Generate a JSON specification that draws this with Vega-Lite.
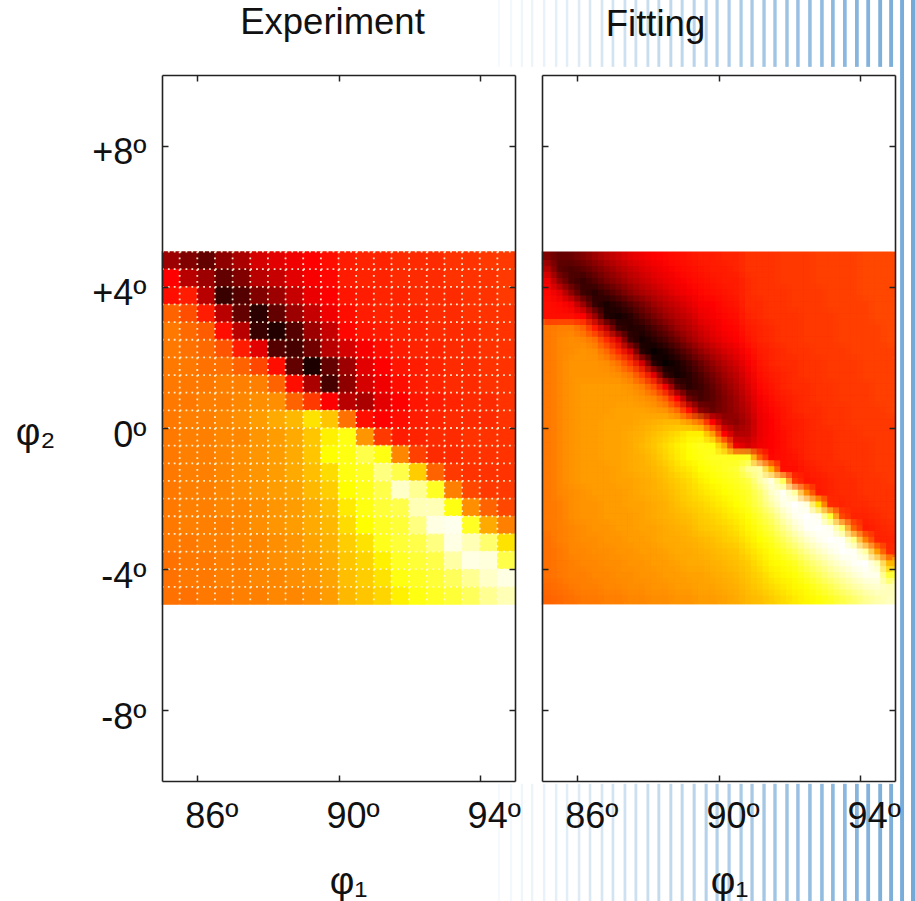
{"$schema":"https://vega.github.io/schema/vega-lite/v6.json","padding":{"left":15,"top":-3,"right":0,"bottom":0},"background":"white","bounds":"flush","spacing":27,"config":{"font":"Liberation Sans","view":{"stroke":null},"axis":{"grid":false,"domainColor":"#222","domainWidth":1.6,"tickColor":"#222","tickWidth":1.5,"tickSize":-6,"labelFont":"Liberation Sans","labelFontSize":36,"labelColor":"#111","titleFont":"Liberation Sans","titleFontWeight":"normal","titleFontSize":38,"titleColor":"#111","zindex":1},"title":{"font":"Liberation Sans","fontSize":36.5,"fontWeight":"normal","color":"#111"}},"datasets":{"fit":[
{"x":85.167,"y":4.833,"v":18},{"x":85.5,"y":4.833,"v":14},{"x":85.833,"y":4.833,"v":15},{"x":86.167,"y":4.833,"v":18},{"x":86.5,"y":4.833,"v":22},{"x":86.833,"y":4.833,"v":26},{"x":87.167,"y":4.833,"v":29},{"x":87.5,"y":4.833,"v":32},{"x":87.833,"y":4.833,"v":34},{"x":88.167,"y":4.833,"v":36},{"x":88.5,"y":4.833,"v":37},{"x":88.833,"y":4.833,"v":38},{"x":89.167,"y":4.833,"v":39},{"x":89.5,"y":4.833,"v":40},{"x":89.833,"y":4.833,"v":40},{"x":90.167,"y":4.833,"v":41},{"x":90.5,"y":4.833,"v":41},{"x":90.833,"y":4.833,"v":43},{"x":91.167,"y":4.833,"v":43},{"x":91.5,"y":4.833,"v":43},{"x":91.833,"y":4.833,"v":44},{"x":92.167,"y":4.833,"v":44},{"x":92.5,"y":4.833,"v":44},{"x":92.833,"y":4.833,"v":45},{"x":93.167,"y":4.833,"v":45},{"x":93.5,"y":4.833,"v":45},{"x":93.833,"y":4.833,"v":45},{"x":94.167,"y":4.833,"v":46},{"x":94.5,"y":4.833,"v":46},{"x":94.833,"y":4.833,"v":46},
{"x":85.167,"y":4.5,"v":26},{"x":85.5,"y":4.5,"v":13},{"x":85.833,"y":4.5,"v":11},{"x":86.167,"y":4.5,"v":13},{"x":86.5,"y":4.5,"v":17},{"x":86.833,"y":4.5,"v":21},{"x":87.167,"y":4.5,"v":25},{"x":87.5,"y":4.5,"v":28},{"x":87.833,"y":4.5,"v":31},{"x":88.167,"y":4.5,"v":33},{"x":88.5,"y":4.5,"v":35},{"x":88.833,"y":4.5,"v":37},{"x":89.167,"y":4.5,"v":38},{"x":89.5,"y":4.5,"v":39},{"x":89.833,"y":4.5,"v":40},{"x":90.167,"y":4.5,"v":40},{"x":90.5,"y":4.5,"v":41},{"x":90.833,"y":4.5,"v":43},{"x":91.167,"y":4.5,"v":43},{"x":91.5,"y":4.5,"v":43},{"x":91.833,"y":4.5,"v":44},{"x":92.167,"y":4.5,"v":44},{"x":92.5,"y":4.5,"v":44},{"x":92.833,"y":4.5,"v":45},{"x":93.167,"y":4.5,"v":45},{"x":93.5,"y":4.5,"v":45},{"x":93.833,"y":4.5,"v":45},{"x":94.167,"y":4.5,"v":46},{"x":94.5,"y":4.5,"v":46},{"x":94.833,"y":4.5,"v":46},
{"x":85.167,"y":4.167,"v":34},{"x":85.5,"y":4.167,"v":20},{"x":85.833,"y":4.167,"v":11},{"x":86.167,"y":4.167,"v":8},{"x":86.5,"y":4.167,"v":12},{"x":86.833,"y":4.167,"v":17},{"x":87.167,"y":4.167,"v":21},{"x":87.5,"y":4.167,"v":25},{"x":87.833,"y":4.167,"v":28},{"x":88.167,"y":4.167,"v":31},{"x":88.5,"y":4.167,"v":33},{"x":88.833,"y":4.167,"v":35},{"x":89.167,"y":4.167,"v":37},{"x":89.5,"y":4.167,"v":38},{"x":89.833,"y":4.167,"v":39},{"x":90.167,"y":4.167,"v":40},{"x":90.5,"y":4.167,"v":40},{"x":90.833,"y":4.167,"v":42},{"x":91.167,"y":4.167,"v":43},{"x":91.5,"y":4.167,"v":43},{"x":91.833,"y":4.167,"v":44},{"x":92.167,"y":4.167,"v":44},{"x":92.5,"y":4.167,"v":44},{"x":92.833,"y":4.167,"v":45},{"x":93.167,"y":4.167,"v":45},{"x":93.5,"y":4.167,"v":45},{"x":93.833,"y":4.167,"v":45},{"x":94.167,"y":4.167,"v":46},{"x":94.5,"y":4.167,"v":46},{"x":94.833,"y":4.167,"v":46},
{"x":85.167,"y":3.833,"v":37},{"x":85.5,"y":3.833,"v":32},{"x":85.833,"y":3.833,"v":20},{"x":86.167,"y":3.833,"v":9},{"x":86.5,"y":3.833,"v":6},{"x":86.833,"y":3.833,"v":10},{"x":87.167,"y":3.833,"v":15},{"x":87.5,"y":3.833,"v":20},{"x":87.833,"y":3.833,"v":24},{"x":88.167,"y":3.833,"v":27},{"x":88.5,"y":3.833,"v":30},{"x":88.833,"y":3.833,"v":33},{"x":89.167,"y":3.833,"v":35},{"x":89.5,"y":3.833,"v":37},{"x":89.833,"y":3.833,"v":38},{"x":90.167,"y":3.833,"v":39},{"x":90.5,"y":3.833,"v":40},{"x":90.833,"y":3.833,"v":42},{"x":91.167,"y":3.833,"v":43},{"x":91.5,"y":3.833,"v":43},{"x":91.833,"y":3.833,"v":43},{"x":92.167,"y":3.833,"v":44},{"x":92.5,"y":3.833,"v":44},{"x":92.833,"y":3.833,"v":44},{"x":93.167,"y":3.833,"v":45},{"x":93.5,"y":3.833,"v":45},{"x":93.833,"y":3.833,"v":45},{"x":94.167,"y":3.833,"v":46},{"x":94.5,"y":3.833,"v":46},{"x":94.833,"y":3.833,"v":46},
{"x":85.167,"y":3.5,"v":38},{"x":85.5,"y":3.5,"v":37},{"x":85.833,"y":3.5,"v":34},{"x":86.167,"y":3.5,"v":22},{"x":86.5,"y":3.5,"v":8},{"x":86.833,"y":3.5,"v":4},{"x":87.167,"y":3.5,"v":7},{"x":87.5,"y":3.5,"v":12},{"x":87.833,"y":3.5,"v":17},{"x":88.167,"y":3.5,"v":22},{"x":88.5,"y":3.5,"v":26},{"x":88.833,"y":3.5,"v":29},{"x":89.167,"y":3.5,"v":32},{"x":89.5,"y":3.5,"v":35},{"x":89.833,"y":3.5,"v":36},{"x":90.167,"y":3.5,"v":38},{"x":90.5,"y":3.5,"v":39},{"x":90.833,"y":3.5,"v":42},{"x":91.167,"y":3.5,"v":42},{"x":91.5,"y":3.5,"v":43},{"x":91.833,"y":3.5,"v":43},{"x":92.167,"y":3.5,"v":44},{"x":92.5,"y":3.5,"v":44},{"x":92.833,"y":3.5,"v":44},{"x":93.167,"y":3.5,"v":45},{"x":93.5,"y":3.5,"v":45},{"x":93.833,"y":3.5,"v":45},{"x":94.167,"y":3.5,"v":45},{"x":94.5,"y":3.5,"v":46},{"x":94.833,"y":3.5,"v":46},
{"x":85.167,"y":3.167,"v":38},{"x":85.5,"y":3.167,"v":38},{"x":85.833,"y":3.167,"v":38},{"x":86.167,"y":3.167,"v":36},{"x":86.5,"y":3.167,"v":22},{"x":86.833,"y":3.167,"v":5},{"x":87.167,"y":3.167,"v":3},{"x":87.5,"y":3.167,"v":6},{"x":87.833,"y":3.167,"v":12},{"x":88.167,"y":3.167,"v":17},{"x":88.5,"y":3.167,"v":22},{"x":88.833,"y":3.167,"v":26},{"x":89.167,"y":3.167,"v":29},{"x":89.5,"y":3.167,"v":33},{"x":89.833,"y":3.167,"v":35},{"x":90.167,"y":3.167,"v":37},{"x":90.5,"y":3.167,"v":38},{"x":90.833,"y":3.167,"v":41},{"x":91.167,"y":3.167,"v":42},{"x":91.5,"y":3.167,"v":43},{"x":91.833,"y":3.167,"v":43},{"x":92.167,"y":3.167,"v":43},{"x":92.5,"y":3.167,"v":44},{"x":92.833,"y":3.167,"v":44},{"x":93.167,"y":3.167,"v":44},{"x":93.5,"y":3.167,"v":45},{"x":93.833,"y":3.167,"v":45},{"x":94.167,"y":3.167,"v":45},{"x":94.5,"y":3.167,"v":46},{"x":94.833,"y":3.167,"v":46},
{"x":85.167,"y":2.833,"v":53},{"x":85.5,"y":2.833,"v":54},{"x":85.833,"y":2.833,"v":54},{"x":86.167,"y":2.833,"v":50},{"x":86.5,"y":2.833,"v":40},{"x":86.833,"y":2.833,"v":26},{"x":87.167,"y":2.833,"v":8},{"x":87.5,"y":2.833,"v":5},{"x":87.833,"y":2.833,"v":6},{"x":88.167,"y":2.833,"v":11},{"x":88.5,"y":2.833,"v":16},{"x":88.833,"y":2.833,"v":22},{"x":89.167,"y":2.833,"v":26},{"x":89.5,"y":2.833,"v":30},{"x":89.833,"y":2.833,"v":33},{"x":90.167,"y":2.833,"v":36},{"x":90.5,"y":2.833,"v":37},{"x":90.833,"y":2.833,"v":40},{"x":91.167,"y":2.833,"v":41},{"x":91.5,"y":2.833,"v":42},{"x":91.833,"y":2.833,"v":43},{"x":92.167,"y":2.833,"v":43},{"x":92.5,"y":2.833,"v":44},{"x":92.833,"y":2.833,"v":44},{"x":93.167,"y":2.833,"v":44},{"x":93.5,"y":2.833,"v":45},{"x":93.833,"y":2.833,"v":45},{"x":94.167,"y":2.833,"v":45},{"x":94.5,"y":2.833,"v":45},{"x":94.833,"y":2.833,"v":46},
{"x":85.167,"y":2.5,"v":53},{"x":85.5,"y":2.5,"v":55},{"x":85.833,"y":2.5,"v":56},{"x":86.167,"y":2.5,"v":55},{"x":86.5,"y":2.5,"v":52},{"x":86.833,"y":2.5,"v":42},{"x":87.167,"y":2.5,"v":30},{"x":87.5,"y":2.5,"v":8},{"x":87.833,"y":2.5,"v":3},{"x":88.167,"y":2.5,"v":6},{"x":88.5,"y":2.5,"v":10},{"x":88.833,"y":2.5,"v":16},{"x":89.167,"y":2.5,"v":22},{"x":89.5,"y":2.5,"v":27},{"x":89.833,"y":2.5,"v":31},{"x":90.167,"y":2.5,"v":34},{"x":90.5,"y":2.5,"v":36},{"x":90.833,"y":2.5,"v":39},{"x":91.167,"y":2.5,"v":41},{"x":91.5,"y":2.5,"v":42},{"x":91.833,"y":2.5,"v":43},{"x":92.167,"y":2.5,"v":43},{"x":92.5,"y":2.5,"v":44},{"x":92.833,"y":2.5,"v":44},{"x":93.167,"y":2.5,"v":44},{"x":93.5,"y":2.5,"v":45},{"x":93.833,"y":2.5,"v":45},{"x":94.167,"y":2.5,"v":45},{"x":94.5,"y":2.5,"v":45},{"x":94.833,"y":2.5,"v":46},
{"x":85.167,"y":2.167,"v":53},{"x":85.5,"y":2.167,"v":55},{"x":85.833,"y":2.167,"v":56},{"x":86.167,"y":2.167,"v":57},{"x":86.5,"y":2.167,"v":56},{"x":86.833,"y":2.167,"v":51},{"x":87.167,"y":2.167,"v":42},{"x":87.5,"y":2.167,"v":30},{"x":87.833,"y":2.167,"v":6},{"x":88.167,"y":2.167,"v":1},{"x":88.5,"y":2.167,"v":4},{"x":88.833,"y":2.167,"v":9},{"x":89.167,"y":2.167,"v":15},{"x":89.5,"y":2.167,"v":21},{"x":89.833,"y":2.167,"v":26},{"x":90.167,"y":2.167,"v":30},{"x":90.5,"y":2.167,"v":33},{"x":90.833,"y":2.167,"v":37},{"x":91.167,"y":2.167,"v":40},{"x":91.5,"y":2.167,"v":41},{"x":91.833,"y":2.167,"v":42},{"x":92.167,"y":2.167,"v":43},{"x":92.5,"y":2.167,"v":43},{"x":92.833,"y":2.167,"v":44},{"x":93.167,"y":2.167,"v":44},{"x":93.5,"y":2.167,"v":44},{"x":93.833,"y":2.167,"v":45},{"x":94.167,"y":2.167,"v":45},{"x":94.5,"y":2.167,"v":45},{"x":94.833,"y":2.167,"v":45},
{"x":85.167,"y":1.833,"v":53},{"x":85.5,"y":1.833,"v":55},{"x":85.833,"y":1.833,"v":57},{"x":86.167,"y":1.833,"v":57},{"x":86.5,"y":1.833,"v":57},{"x":86.833,"y":1.833,"v":56},{"x":87.167,"y":1.833,"v":52},{"x":87.5,"y":1.833,"v":44},{"x":87.833,"y":1.833,"v":30},{"x":88.167,"y":1.833,"v":6},{"x":88.5,"y":1.833,"v":1},{"x":88.833,"y":1.833,"v":4},{"x":89.167,"y":1.833,"v":9},{"x":89.5,"y":1.833,"v":15},{"x":89.833,"y":1.833,"v":21},{"x":90.167,"y":1.833,"v":26},{"x":90.5,"y":1.833,"v":30},{"x":90.833,"y":1.833,"v":35},{"x":91.167,"y":1.833,"v":39},{"x":91.5,"y":1.833,"v":41},{"x":91.833,"y":1.833,"v":42},{"x":92.167,"y":1.833,"v":42},{"x":92.5,"y":1.833,"v":43},{"x":92.833,"y":1.833,"v":43},{"x":93.167,"y":1.833,"v":44},{"x":93.5,"y":1.833,"v":44},{"x":93.833,"y":1.833,"v":44},{"x":94.167,"y":1.833,"v":45},{"x":94.5,"y":1.833,"v":45},{"x":94.833,"y":1.833,"v":45},
{"x":85.167,"y":1.5,"v":53},{"x":85.5,"y":1.5,"v":55},{"x":85.833,"y":1.5,"v":57},{"x":86.167,"y":1.5,"v":57},{"x":86.5,"y":1.5,"v":57},{"x":86.833,"y":1.5,"v":57},{"x":87.167,"y":1.5,"v":56},{"x":87.5,"y":1.5,"v":53},{"x":87.833,"y":1.5,"v":45},{"x":88.167,"y":1.5,"v":32},{"x":88.5,"y":1.5,"v":8},{"x":88.833,"y":1.5,"v":3},{"x":89.167,"y":1.5,"v":6},{"x":89.5,"y":1.5,"v":11},{"x":89.833,"y":1.5,"v":17},{"x":90.167,"y":1.5,"v":23},{"x":90.5,"y":1.5,"v":27},{"x":90.833,"y":1.5,"v":33},{"x":91.167,"y":1.5,"v":38},{"x":91.5,"y":1.5,"v":40},{"x":91.833,"y":1.5,"v":41},{"x":92.167,"y":1.5,"v":42},{"x":92.5,"y":1.5,"v":43},{"x":92.833,"y":1.5,"v":43},{"x":93.167,"y":1.5,"v":44},{"x":93.5,"y":1.5,"v":44},{"x":93.833,"y":1.5,"v":44},{"x":94.167,"y":1.5,"v":45},{"x":94.5,"y":1.5,"v":45},{"x":94.833,"y":1.5,"v":45},
{"x":85.167,"y":1.167,"v":53},{"x":85.5,"y":1.167,"v":55},{"x":85.833,"y":1.167,"v":57},{"x":86.167,"y":1.167,"v":58},{"x":86.5,"y":1.167,"v":58},{"x":86.833,"y":1.167,"v":58},{"x":87.167,"y":1.167,"v":58},{"x":87.5,"y":1.167,"v":57},{"x":87.833,"y":1.167,"v":54},{"x":88.167,"y":1.167,"v":47},{"x":88.5,"y":1.167,"v":34},{"x":88.833,"y":1.167,"v":12},{"x":89.167,"y":1.167,"v":6},{"x":89.5,"y":1.167,"v":9},{"x":89.833,"y":1.167,"v":14},{"x":90.167,"y":1.167,"v":20},{"x":90.5,"y":1.167,"v":25},{"x":90.833,"y":1.167,"v":31},{"x":91.167,"y":1.167,"v":37},{"x":91.5,"y":1.167,"v":39},{"x":91.833,"y":1.167,"v":41},{"x":92.167,"y":1.167,"v":42},{"x":92.5,"y":1.167,"v":42},{"x":92.833,"y":1.167,"v":43},{"x":93.167,"y":1.167,"v":43},{"x":93.5,"y":1.167,"v":44},{"x":93.833,"y":1.167,"v":44},{"x":94.167,"y":1.167,"v":44},{"x":94.5,"y":1.167,"v":45},{"x":94.833,"y":1.167,"v":45},
{"x":85.167,"y":0.833,"v":53},{"x":85.5,"y":0.833,"v":55},{"x":85.833,"y":0.833,"v":57},{"x":86.167,"y":0.833,"v":58},{"x":86.5,"y":0.833,"v":58},{"x":86.833,"y":0.833,"v":58},{"x":87.167,"y":0.833,"v":58},{"x":87.5,"y":0.833,"v":58},{"x":87.833,"y":0.833,"v":57},{"x":88.167,"y":0.833,"v":55},{"x":88.5,"y":0.833,"v":49},{"x":88.833,"y":0.833,"v":36},{"x":89.167,"y":0.833,"v":16},{"x":89.5,"y":0.833,"v":10},{"x":89.833,"y":0.833,"v":13},{"x":90.167,"y":0.833,"v":18},{"x":90.5,"y":0.833,"v":23},{"x":90.833,"y":0.833,"v":29},{"x":91.167,"y":0.833,"v":35},{"x":91.5,"y":0.833,"v":38},{"x":91.833,"y":0.833,"v":40},{"x":92.167,"y":0.833,"v":41},{"x":92.5,"y":0.833,"v":42},{"x":92.833,"y":0.833,"v":43},{"x":93.167,"y":0.833,"v":43},{"x":93.5,"y":0.833,"v":44},{"x":93.833,"y":0.833,"v":44},{"x":94.167,"y":0.833,"v":44},{"x":94.5,"y":0.833,"v":45},{"x":94.833,"y":0.833,"v":45},
{"x":85.167,"y":0.5,"v":53},{"x":85.5,"y":0.5,"v":55},{"x":85.833,"y":0.5,"v":57},{"x":86.167,"y":0.5,"v":58},{"x":86.5,"y":0.5,"v":58},{"x":86.833,"y":0.5,"v":58},{"x":87.167,"y":0.5,"v":59},{"x":87.5,"y":0.5,"v":59},{"x":87.833,"y":0.5,"v":59},{"x":88.167,"y":0.5,"v":58},{"x":88.5,"y":0.5,"v":57},{"x":88.833,"y":0.5,"v":51},{"x":89.167,"y":0.5,"v":38},{"x":89.5,"y":0.5,"v":20},{"x":89.833,"y":0.5,"v":15},{"x":90.167,"y":0.5,"v":18},{"x":90.5,"y":0.5,"v":22},{"x":90.833,"y":0.5,"v":27},{"x":91.167,"y":0.5,"v":34},{"x":91.5,"y":0.5,"v":37},{"x":91.833,"y":0.5,"v":39},{"x":92.167,"y":0.5,"v":41},{"x":92.5,"y":0.5,"v":42},{"x":92.833,"y":0.5,"v":42},{"x":93.167,"y":0.5,"v":43},{"x":93.5,"y":0.5,"v":43},{"x":93.833,"y":0.5,"v":44},{"x":94.167,"y":0.5,"v":44},{"x":94.5,"y":0.5,"v":44},{"x":94.833,"y":0.5,"v":45},
{"x":85.167,"y":0.167,"v":53},{"x":85.5,"y":0.167,"v":55},{"x":85.833,"y":0.167,"v":57},{"x":86.167,"y":0.167,"v":58},{"x":86.5,"y":0.167,"v":58},{"x":86.833,"y":0.167,"v":59},{"x":87.167,"y":0.167,"v":59},{"x":87.5,"y":0.167,"v":59},{"x":87.833,"y":0.167,"v":60},{"x":88.167,"y":0.167,"v":61},{"x":88.5,"y":0.167,"v":62},{"x":88.833,"y":0.167,"v":62},{"x":89.167,"y":0.167,"v":58},{"x":89.5,"y":0.167,"v":52},{"x":89.833,"y":0.167,"v":36},{"x":90.167,"y":0.167,"v":22},{"x":90.5,"y":0.167,"v":20},{"x":90.833,"y":0.167,"v":25},{"x":91.167,"y":0.167,"v":33},{"x":91.5,"y":0.167,"v":36},{"x":91.833,"y":0.167,"v":39},{"x":92.167,"y":0.167,"v":40},{"x":92.5,"y":0.167,"v":41},{"x":92.833,"y":0.167,"v":42},{"x":93.167,"y":0.167,"v":43},{"x":93.5,"y":0.167,"v":43},{"x":93.833,"y":0.167,"v":44},{"x":94.167,"y":0.167,"v":44},{"x":94.5,"y":0.167,"v":44},{"x":94.833,"y":0.167,"v":44},
{"x":85.167,"y":-0.167,"v":53},{"x":85.5,"y":-0.167,"v":55},{"x":85.833,"y":-0.167,"v":57},{"x":86.167,"y":-0.167,"v":58},{"x":86.5,"y":-0.167,"v":58},{"x":86.833,"y":-0.167,"v":59},{"x":87.167,"y":-0.167,"v":59},{"x":87.5,"y":-0.167,"v":60},{"x":87.833,"y":-0.167,"v":61},{"x":88.167,"y":-0.167,"v":63},{"x":88.5,"y":-0.167,"v":65},{"x":88.833,"y":-0.167,"v":67},{"x":89.167,"y":-0.167,"v":70},{"x":89.5,"y":-0.167,"v":70},{"x":89.833,"y":-0.167,"v":58},{"x":90.167,"y":-0.167,"v":36},{"x":90.5,"y":-0.167,"v":25},{"x":90.833,"y":-0.167,"v":26},{"x":91.167,"y":-0.167,"v":33},{"x":91.5,"y":-0.167,"v":36},{"x":91.833,"y":-0.167,"v":38},{"x":92.167,"y":-0.167,"v":40},{"x":92.5,"y":-0.167,"v":41},{"x":92.833,"y":-0.167,"v":42},{"x":93.167,"y":-0.167,"v":42},{"x":93.5,"y":-0.167,"v":43},{"x":93.833,"y":-0.167,"v":43},{"x":94.167,"y":-0.167,"v":44},{"x":94.5,"y":-0.167,"v":44},{"x":94.833,"y":-0.167,"v":44},
{"x":85.167,"y":-0.5,"v":53},{"x":85.5,"y":-0.5,"v":55},{"x":85.833,"y":-0.5,"v":57},{"x":86.167,"y":-0.5,"v":58},{"x":86.5,"y":-0.5,"v":58},{"x":86.833,"y":-0.5,"v":59},{"x":87.167,"y":-0.5,"v":59},{"x":87.5,"y":-0.5,"v":60},{"x":87.833,"y":-0.5,"v":62},{"x":88.167,"y":-0.5,"v":64},{"x":88.5,"y":-0.5,"v":67},{"x":88.833,"y":-0.5,"v":70},{"x":89.167,"y":-0.5,"v":73},{"x":89.5,"y":-0.5,"v":75},{"x":89.833,"y":-0.5,"v":74},{"x":90.167,"y":-0.5,"v":60},{"x":90.5,"y":-0.5,"v":34},{"x":90.833,"y":-0.5,"v":30},{"x":91.167,"y":-0.5,"v":34},{"x":91.5,"y":-0.5,"v":36},{"x":91.833,"y":-0.5,"v":38},{"x":92.167,"y":-0.5,"v":40},{"x":92.5,"y":-0.5,"v":41},{"x":92.833,"y":-0.5,"v":42},{"x":93.167,"y":-0.5,"v":42},{"x":93.5,"y":-0.5,"v":43},{"x":93.833,"y":-0.5,"v":43},{"x":94.167,"y":-0.5,"v":43},{"x":94.5,"y":-0.5,"v":44},{"x":94.833,"y":-0.5,"v":44},
{"x":85.167,"y":-0.833,"v":53},{"x":85.5,"y":-0.833,"v":55},{"x":85.833,"y":-0.833,"v":57},{"x":86.167,"y":-0.833,"v":58},{"x":86.5,"y":-0.833,"v":58},{"x":86.833,"y":-0.833,"v":59},{"x":87.167,"y":-0.833,"v":59},{"x":87.5,"y":-0.833,"v":60},{"x":87.833,"y":-0.833,"v":61},{"x":88.167,"y":-0.833,"v":63},{"x":88.5,"y":-0.833,"v":66},{"x":88.833,"y":-0.833,"v":69},{"x":89.167,"y":-0.833,"v":72},{"x":89.5,"y":-0.833,"v":74},{"x":89.833,"y":-0.833,"v":76},{"x":90.167,"y":-0.833,"v":76},{"x":90.5,"y":-0.833,"v":75},{"x":90.833,"y":-0.833,"v":76},{"x":91.167,"y":-0.833,"v":50},{"x":91.5,"y":-0.833,"v":37},{"x":91.833,"y":-0.833,"v":38},{"x":92.167,"y":-0.833,"v":39},{"x":92.5,"y":-0.833,"v":41},{"x":92.833,"y":-0.833,"v":42},{"x":93.167,"y":-0.833,"v":42},{"x":93.5,"y":-0.833,"v":43},{"x":93.833,"y":-0.833,"v":43},{"x":94.167,"y":-0.833,"v":43},{"x":94.5,"y":-0.833,"v":44},{"x":94.833,"y":-0.833,"v":44},
{"x":85.167,"y":-1.167,"v":53},{"x":85.5,"y":-1.167,"v":55},{"x":85.833,"y":-1.167,"v":57},{"x":86.167,"y":-1.167,"v":58},{"x":86.5,"y":-1.167,"v":58},{"x":86.833,"y":-1.167,"v":58},{"x":87.167,"y":-1.167,"v":59},{"x":87.5,"y":-1.167,"v":60},{"x":87.833,"y":-1.167,"v":61},{"x":88.167,"y":-1.167,"v":62},{"x":88.5,"y":-1.167,"v":64},{"x":88.833,"y":-1.167,"v":67},{"x":89.167,"y":-1.167,"v":69},{"x":89.5,"y":-1.167,"v":72},{"x":89.833,"y":-1.167,"v":74},{"x":90.167,"y":-1.167,"v":76},{"x":90.5,"y":-1.167,"v":78},{"x":90.833,"y":-1.167,"v":88},{"x":91.167,"y":-1.167,"v":90},{"x":91.5,"y":-1.167,"v":62},{"x":91.833,"y":-1.167,"v":38},{"x":92.167,"y":-1.167,"v":38},{"x":92.5,"y":-1.167,"v":40},{"x":92.833,"y":-1.167,"v":41},{"x":93.167,"y":-1.167,"v":42},{"x":93.5,"y":-1.167,"v":42},{"x":93.833,"y":-1.167,"v":43},{"x":94.167,"y":-1.167,"v":43},{"x":94.5,"y":-1.167,"v":44},{"x":94.833,"y":-1.167,"v":44},
{"x":85.167,"y":-1.5,"v":53},{"x":85.5,"y":-1.5,"v":55},{"x":85.833,"y":-1.5,"v":57},{"x":86.167,"y":-1.5,"v":58},{"x":86.5,"y":-1.5,"v":58},{"x":86.833,"y":-1.5,"v":58},{"x":87.167,"y":-1.5,"v":59},{"x":87.5,"y":-1.5,"v":59},{"x":87.833,"y":-1.5,"v":60},{"x":88.167,"y":-1.5,"v":61},{"x":88.5,"y":-1.5,"v":63},{"x":88.833,"y":-1.5,"v":65},{"x":89.167,"y":-1.5,"v":67},{"x":89.5,"y":-1.5,"v":70},{"x":89.833,"y":-1.5,"v":72},{"x":90.167,"y":-1.5,"v":74},{"x":90.5,"y":-1.5,"v":76},{"x":90.833,"y":-1.5,"v":80},{"x":91.167,"y":-1.5,"v":90},{"x":91.5,"y":-1.5,"v":97},{"x":91.833,"y":-1.5,"v":82},{"x":92.167,"y":-1.5,"v":44},{"x":92.5,"y":-1.5,"v":39},{"x":92.833,"y":-1.5,"v":40},{"x":93.167,"y":-1.5,"v":41},{"x":93.5,"y":-1.5,"v":42},{"x":93.833,"y":-1.5,"v":42},{"x":94.167,"y":-1.5,"v":43},{"x":94.5,"y":-1.5,"v":43},{"x":94.833,"y":-1.5,"v":44},
{"x":85.167,"y":-1.833,"v":53},{"x":85.5,"y":-1.833,"v":55},{"x":85.833,"y":-1.833,"v":56},{"x":86.167,"y":-1.833,"v":57},{"x":86.5,"y":-1.833,"v":58},{"x":86.833,"y":-1.833,"v":58},{"x":87.167,"y":-1.833,"v":58},{"x":87.5,"y":-1.833,"v":59},{"x":87.833,"y":-1.833,"v":60},{"x":88.167,"y":-1.833,"v":61},{"x":88.5,"y":-1.833,"v":62},{"x":88.833,"y":-1.833,"v":64},{"x":89.167,"y":-1.833,"v":66},{"x":89.5,"y":-1.833,"v":68},{"x":89.833,"y":-1.833,"v":70},{"x":90.167,"y":-1.833,"v":72},{"x":90.5,"y":-1.833,"v":74},{"x":90.833,"y":-1.833,"v":77},{"x":91.167,"y":-1.833,"v":84},{"x":91.5,"y":-1.833,"v":94},{"x":91.833,"y":-1.833,"v":99},{"x":92.167,"y":-1.833,"v":90},{"x":92.5,"y":-1.833,"v":56},{"x":92.833,"y":-1.833,"v":40},{"x":93.167,"y":-1.833,"v":41},{"x":93.5,"y":-1.833,"v":42},{"x":93.833,"y":-1.833,"v":42},{"x":94.167,"y":-1.833,"v":43},{"x":94.5,"y":-1.833,"v":43},{"x":94.833,"y":-1.833,"v":43},
{"x":85.167,"y":-2.167,"v":53},{"x":85.5,"y":-2.167,"v":54},{"x":85.833,"y":-2.167,"v":56},{"x":86.167,"y":-2.167,"v":57},{"x":86.5,"y":-2.167,"v":57},{"x":86.833,"y":-2.167,"v":58},{"x":87.167,"y":-2.167,"v":58},{"x":87.5,"y":-2.167,"v":59},{"x":87.833,"y":-2.167,"v":59},{"x":88.167,"y":-2.167,"v":60},{"x":88.5,"y":-2.167,"v":61},{"x":88.833,"y":-2.167,"v":63},{"x":89.167,"y":-2.167,"v":65},{"x":89.5,"y":-2.167,"v":66},{"x":89.833,"y":-2.167,"v":68},{"x":90.167,"y":-2.167,"v":70},{"x":90.5,"y":-2.167,"v":72},{"x":90.833,"y":-2.167,"v":76},{"x":91.167,"y":-2.167,"v":82},{"x":91.5,"y":-2.167,"v":90},{"x":91.833,"y":-2.167,"v":97},{"x":92.167,"y":-2.167,"v":100},{"x":92.5,"y":-2.167,"v":96},{"x":92.833,"y":-2.167,"v":68},{"x":93.167,"y":-2.167,"v":42},{"x":93.5,"y":-2.167,"v":41},{"x":93.833,"y":-2.167,"v":42},{"x":94.167,"y":-2.167,"v":42},{"x":94.5,"y":-2.167,"v":43},{"x":94.833,"y":-2.167,"v":43},
{"x":85.167,"y":-2.5,"v":53},{"x":85.5,"y":-2.5,"v":54},{"x":85.833,"y":-2.5,"v":56},{"x":86.167,"y":-2.5,"v":57},{"x":86.5,"y":-2.5,"v":57},{"x":86.833,"y":-2.5,"v":58},{"x":87.167,"y":-2.5,"v":58},{"x":87.5,"y":-2.5,"v":58},{"x":87.833,"y":-2.5,"v":59},{"x":88.167,"y":-2.5,"v":60},{"x":88.5,"y":-2.5,"v":61},{"x":88.833,"y":-2.5,"v":62},{"x":89.167,"y":-2.5,"v":63},{"x":89.5,"y":-2.5,"v":65},{"x":89.833,"y":-2.5,"v":66},{"x":90.167,"y":-2.5,"v":68},{"x":90.5,"y":-2.5,"v":70},{"x":90.833,"y":-2.5,"v":73},{"x":91.167,"y":-2.5,"v":78},{"x":91.5,"y":-2.5,"v":84},{"x":91.833,"y":-2.5,"v":92},{"x":92.167,"y":-2.5,"v":98},{"x":92.5,"y":-2.5,"v":100},{"x":92.833,"y":-2.5,"v":98},{"x":93.167,"y":-2.5,"v":78},{"x":93.5,"y":-2.5,"v":46},{"x":93.833,"y":-2.5,"v":41},{"x":94.167,"y":-2.5,"v":41},{"x":94.5,"y":-2.5,"v":42},{"x":94.833,"y":-2.5,"v":43},
{"x":85.167,"y":-2.833,"v":53},{"x":85.5,"y":-2.833,"v":54},{"x":85.833,"y":-2.833,"v":55},{"x":86.167,"y":-2.833,"v":56},{"x":86.5,"y":-2.833,"v":57},{"x":86.833,"y":-2.833,"v":57},{"x":87.167,"y":-2.833,"v":58},{"x":87.5,"y":-2.833,"v":58},{"x":87.833,"y":-2.833,"v":59},{"x":88.167,"y":-2.833,"v":59},{"x":88.5,"y":-2.833,"v":60},{"x":88.833,"y":-2.833,"v":61},{"x":89.167,"y":-2.833,"v":62},{"x":89.5,"y":-2.833,"v":64},{"x":89.833,"y":-2.833,"v":65},{"x":90.167,"y":-2.833,"v":66},{"x":90.5,"y":-2.833,"v":68},{"x":90.833,"y":-2.833,"v":71},{"x":91.167,"y":-2.833,"v":75},{"x":91.5,"y":-2.833,"v":80},{"x":91.833,"y":-2.833,"v":87},{"x":92.167,"y":-2.833,"v":94},{"x":92.5,"y":-2.833,"v":99},{"x":92.833,"y":-2.833,"v":100},{"x":93.167,"y":-2.833,"v":98},{"x":93.5,"y":-2.833,"v":84},{"x":93.833,"y":-2.833,"v":50},{"x":94.167,"y":-2.833,"v":40},{"x":94.5,"y":-2.833,"v":41},{"x":94.833,"y":-2.833,"v":42},
{"x":85.167,"y":-3.167,"v":52},{"x":85.5,"y":-3.167,"v":54},{"x":85.833,"y":-3.167,"v":55},{"x":86.167,"y":-3.167,"v":56},{"x":86.5,"y":-3.167,"v":56},{"x":86.833,"y":-3.167,"v":57},{"x":87.167,"y":-3.167,"v":57},{"x":87.5,"y":-3.167,"v":58},{"x":87.833,"y":-3.167,"v":58},{"x":88.167,"y":-3.167,"v":59},{"x":88.5,"y":-3.167,"v":60},{"x":88.833,"y":-3.167,"v":60},{"x":89.167,"y":-3.167,"v":61},{"x":89.5,"y":-3.167,"v":62},{"x":89.833,"y":-3.167,"v":63},{"x":90.167,"y":-3.167,"v":65},{"x":90.5,"y":-3.167,"v":66},{"x":90.833,"y":-3.167,"v":69},{"x":91.167,"y":-3.167,"v":72},{"x":91.5,"y":-3.167,"v":76},{"x":91.833,"y":-3.167,"v":82},{"x":92.167,"y":-3.167,"v":88},{"x":92.5,"y":-3.167,"v":94},{"x":92.833,"y":-3.167,"v":98},{"x":93.167,"y":-3.167,"v":100},{"x":93.5,"y":-3.167,"v":99},{"x":93.833,"y":-3.167,"v":86},{"x":94.167,"y":-3.167,"v":54},{"x":94.5,"y":-3.167,"v":41},{"x":94.833,"y":-3.167,"v":41},
{"x":85.167,"y":-3.5,"v":52},{"x":85.5,"y":-3.5,"v":53},{"x":85.833,"y":-3.5,"v":55},{"x":86.167,"y":-3.5,"v":55},{"x":86.5,"y":-3.5,"v":56},{"x":86.833,"y":-3.5,"v":56},{"x":87.167,"y":-3.5,"v":57},{"x":87.5,"y":-3.5,"v":57},{"x":87.833,"y":-3.5,"v":58},{"x":88.167,"y":-3.5,"v":58},{"x":88.5,"y":-3.5,"v":59},{"x":88.833,"y":-3.5,"v":60},{"x":89.167,"y":-3.5,"v":60},{"x":89.5,"y":-3.5,"v":61},{"x":89.833,"y":-3.5,"v":62},{"x":90.167,"y":-3.5,"v":63},{"x":90.5,"y":-3.5,"v":64},{"x":90.833,"y":-3.5,"v":67},{"x":91.167,"y":-3.5,"v":70},{"x":91.5,"y":-3.5,"v":73},{"x":91.833,"y":-3.5,"v":77},{"x":92.167,"y":-3.5,"v":82},{"x":92.5,"y":-3.5,"v":88},{"x":92.833,"y":-3.5,"v":93},{"x":93.167,"y":-3.5,"v":97},{"x":93.5,"y":-3.5,"v":100},{"x":93.833,"y":-3.5,"v":99},{"x":94.167,"y":-3.5,"v":90},{"x":94.5,"y":-3.5,"v":58},{"x":94.833,"y":-3.5,"v":42},
{"x":85.167,"y":-3.833,"v":52},{"x":85.5,"y":-3.833,"v":53},{"x":85.833,"y":-3.833,"v":54},{"x":86.167,"y":-3.833,"v":55},{"x":86.5,"y":-3.833,"v":55},{"x":86.833,"y":-3.833,"v":56},{"x":87.167,"y":-3.833,"v":56},{"x":87.5,"y":-3.833,"v":57},{"x":87.833,"y":-3.833,"v":57},{"x":88.167,"y":-3.833,"v":58},{"x":88.5,"y":-3.833,"v":58},{"x":88.833,"y":-3.833,"v":59},{"x":89.167,"y":-3.833,"v":60},{"x":89.5,"y":-3.833,"v":60},{"x":89.833,"y":-3.833,"v":61},{"x":90.167,"y":-3.833,"v":62},{"x":90.5,"y":-3.833,"v":63},{"x":90.833,"y":-3.833,"v":65},{"x":91.167,"y":-3.833,"v":68},{"x":91.5,"y":-3.833,"v":71},{"x":91.833,"y":-3.833,"v":73},{"x":92.167,"y":-3.833,"v":76},{"x":92.5,"y":-3.833,"v":82},{"x":92.833,"y":-3.833,"v":87},{"x":93.167,"y":-3.833,"v":92},{"x":93.5,"y":-3.833,"v":96},{"x":93.833,"y":-3.833,"v":99},{"x":94.167,"y":-3.833,"v":100},{"x":94.5,"y":-3.833,"v":92},{"x":94.833,"y":-3.833,"v":62},
{"x":85.167,"y":-4.167,"v":52},{"x":85.5,"y":-4.167,"v":53},{"x":85.833,"y":-4.167,"v":54},{"x":86.167,"y":-4.167,"v":54},{"x":86.5,"y":-4.167,"v":55},{"x":86.833,"y":-4.167,"v":55},{"x":87.167,"y":-4.167,"v":56},{"x":87.5,"y":-4.167,"v":56},{"x":87.833,"y":-4.167,"v":57},{"x":88.167,"y":-4.167,"v":57},{"x":88.5,"y":-4.167,"v":58},{"x":88.833,"y":-4.167,"v":58},{"x":89.167,"y":-4.167,"v":59},{"x":89.5,"y":-4.167,"v":59},{"x":89.833,"y":-4.167,"v":60},{"x":90.167,"y":-4.167,"v":61},{"x":90.5,"y":-4.167,"v":62},{"x":90.833,"y":-4.167,"v":64},{"x":91.167,"y":-4.167,"v":66},{"x":91.5,"y":-4.167,"v":69},{"x":91.833,"y":-4.167,"v":71},{"x":92.167,"y":-4.167,"v":73},{"x":92.5,"y":-4.167,"v":77},{"x":92.833,"y":-4.167,"v":82},{"x":93.167,"y":-4.167,"v":87},{"x":93.5,"y":-4.167,"v":91},{"x":93.833,"y":-4.167,"v":95},{"x":94.167,"y":-4.167,"v":98},{"x":94.5,"y":-4.167,"v":98},{"x":94.833,"y":-4.167,"v":78},
{"x":85.167,"y":-4.5,"v":51},{"x":85.5,"y":-4.5,"v":52},{"x":85.833,"y":-4.5,"v":53},{"x":86.167,"y":-4.5,"v":54},{"x":86.5,"y":-4.5,"v":54},{"x":86.833,"y":-4.5,"v":55},{"x":87.167,"y":-4.5,"v":55},{"x":87.5,"y":-4.5,"v":56},{"x":87.833,"y":-4.5,"v":56},{"x":88.167,"y":-4.5,"v":57},{"x":88.5,"y":-4.5,"v":57},{"x":88.833,"y":-4.5,"v":58},{"x":89.167,"y":-4.5,"v":58},{"x":89.5,"y":-4.5,"v":59},{"x":89.833,"y":-4.5,"v":59},{"x":90.167,"y":-4.5,"v":60},{"x":90.5,"y":-4.5,"v":61},{"x":90.833,"y":-4.5,"v":63},{"x":91.167,"y":-4.5,"v":65},{"x":91.5,"y":-4.5,"v":67},{"x":91.833,"y":-4.5,"v":69},{"x":92.167,"y":-4.5,"v":71},{"x":92.5,"y":-4.5,"v":73},{"x":92.833,"y":-4.5,"v":77},{"x":93.167,"y":-4.5,"v":81},{"x":93.5,"y":-4.5,"v":86},{"x":93.833,"y":-4.5,"v":90},{"x":94.167,"y":-4.5,"v":93},{"x":94.5,"y":-4.5,"v":95},{"x":94.833,"y":-4.5,"v":92},
{"x":85.167,"y":-4.833,"v":50},{"x":85.5,"y":-4.833,"v":51},{"x":85.833,"y":-4.833,"v":52},{"x":86.167,"y":-4.833,"v":53},{"x":86.5,"y":-4.833,"v":53},{"x":86.833,"y":-4.833,"v":54},{"x":87.167,"y":-4.833,"v":54},{"x":87.5,"y":-4.833,"v":55},{"x":87.833,"y":-4.833,"v":55},{"x":88.167,"y":-4.833,"v":56},{"x":88.5,"y":-4.833,"v":56},{"x":88.833,"y":-4.833,"v":57},{"x":89.167,"y":-4.833,"v":57},{"x":89.5,"y":-4.833,"v":58},{"x":89.833,"y":-4.833,"v":58},{"x":90.167,"y":-4.833,"v":59},{"x":90.5,"y":-4.833,"v":60},{"x":90.833,"y":-4.833,"v":62},{"x":91.167,"y":-4.833,"v":63},{"x":91.5,"y":-4.833,"v":65},{"x":91.833,"y":-4.833,"v":67},{"x":92.167,"y":-4.833,"v":69},{"x":92.5,"y":-4.833,"v":71},{"x":92.833,"y":-4.833,"v":73},{"x":93.167,"y":-4.833,"v":76},{"x":93.5,"y":-4.833,"v":80},{"x":93.833,"y":-4.833,"v":84},{"x":94.167,"y":-4.833,"v":88},{"x":94.5,"y":-4.833,"v":91},{"x":94.833,"y":-4.833,"v":93}
]},"hconcat":[{"width":353,"height":706,"title":{"text":"Experiment","anchor":"middle","dx":-6,"offset":33},"resolve":{"axis":{"x":"independent","y":"independent"}},"layer":[{"data":{"values":[
{"x":85.25,"y":4.75,"v":22},{"x":85.75,"y":4.75,"v":18},{"x":86.25,"y":4.75,"v":14},{"x":86.75,"y":4.75,"v":20},{"x":87.25,"y":4.75,"v":24},{"x":87.75,"y":4.75,"v":30},{"x":88.25,"y":4.75,"v":32},{"x":88.75,"y":4.75,"v":34},{"x":89.25,"y":4.75,"v":36},{"x":89.75,"y":4.75,"v":38},{"x":90.25,"y":4.75,"v":40},{"x":90.75,"y":4.75,"v":41},{"x":91.25,"y":4.75,"v":41},{"x":91.75,"y":4.75,"v":42},{"x":92.25,"y":4.75,"v":42},{"x":92.75,"y":4.75,"v":42},{"x":93.25,"y":4.75,"v":43},{"x":93.75,"y":4.75,"v":43},{"x":94.25,"y":4.75,"v":44},{"x":94.75,"y":4.75,"v":44},
{"x":85.25,"y":4.25,"v":36},{"x":85.75,"y":4.25,"v":26},{"x":86.25,"y":4.25,"v":22},{"x":86.75,"y":4.25,"v":14},{"x":87.25,"y":4.25,"v":18},{"x":87.75,"y":4.25,"v":26},{"x":88.25,"y":4.25,"v":28},{"x":88.75,"y":4.25,"v":32},{"x":89.25,"y":4.25,"v":35},{"x":89.75,"y":4.25,"v":37},{"x":90.25,"y":4.25,"v":40},{"x":90.75,"y":4.25,"v":41},{"x":91.25,"y":4.25,"v":41},{"x":91.75,"y":4.25,"v":42},{"x":92.25,"y":4.25,"v":42},{"x":92.75,"y":4.25,"v":42},{"x":93.25,"y":4.25,"v":43},{"x":93.75,"y":4.25,"v":43},{"x":94.25,"y":4.25,"v":43},{"x":94.75,"y":4.25,"v":44},
{"x":85.25,"y":3.75,"v":38},{"x":85.75,"y":3.75,"v":40},{"x":86.25,"y":3.75,"v":26},{"x":86.75,"y":3.75,"v":8},{"x":87.25,"y":3.75,"v":12},{"x":87.75,"y":3.75,"v":18},{"x":88.25,"y":3.75,"v":22},{"x":88.75,"y":3.75,"v":28},{"x":89.25,"y":3.75,"v":33},{"x":89.75,"y":3.75,"v":36},{"x":90.25,"y":3.75,"v":39},{"x":90.75,"y":3.75,"v":40},{"x":91.25,"y":3.75,"v":41},{"x":91.75,"y":3.75,"v":41},{"x":92.25,"y":3.75,"v":42},{"x":92.75,"y":3.75,"v":42},{"x":93.25,"y":3.75,"v":42},{"x":93.75,"y":3.75,"v":43},{"x":94.25,"y":3.75,"v":43},{"x":94.75,"y":3.75,"v":44},
{"x":85.25,"y":3.25,"v":50},{"x":85.75,"y":3.25,"v":47},{"x":86.25,"y":3.25,"v":40},{"x":86.75,"y":3.25,"v":26},{"x":87.25,"y":3.25,"v":14},{"x":87.75,"y":3.25,"v":6},{"x":88.25,"y":3.25,"v":14},{"x":88.75,"y":3.25,"v":22},{"x":89.25,"y":3.25,"v":28},{"x":89.75,"y":3.25,"v":34},{"x":90.25,"y":3.25,"v":38},{"x":90.75,"y":3.25,"v":40},{"x":91.25,"y":3.25,"v":41},{"x":91.75,"y":3.25,"v":41},{"x":92.25,"y":3.25,"v":41},{"x":92.75,"y":3.25,"v":42},{"x":93.25,"y":3.25,"v":42},{"x":93.75,"y":3.25,"v":43},{"x":94.25,"y":3.25,"v":43},{"x":94.75,"y":3.25,"v":43},
{"x":85.25,"y":2.75,"v":53},{"x":85.75,"y":2.75,"v":51},{"x":86.25,"y":2.75,"v":49},{"x":86.75,"y":2.75,"v":38},{"x":87.25,"y":2.75,"v":26},{"x":87.75,"y":2.75,"v":8},{"x":88.25,"y":2.75,"v":5},{"x":88.75,"y":2.75,"v":12},{"x":89.25,"y":2.75,"v":22},{"x":89.75,"y":2.75,"v":28},{"x":90.25,"y":2.75,"v":37},{"x":90.75,"y":2.75,"v":39},{"x":91.25,"y":2.75,"v":40},{"x":91.75,"y":2.75,"v":41},{"x":92.25,"y":2.75,"v":41},{"x":92.75,"y":2.75,"v":42},{"x":93.25,"y":2.75,"v":42},{"x":93.75,"y":2.75,"v":42},{"x":94.25,"y":2.75,"v":43},{"x":94.75,"y":2.75,"v":43},
{"x":85.25,"y":2.25,"v":53},{"x":85.75,"y":2.25,"v":52},{"x":86.25,"y":2.25,"v":51},{"x":86.75,"y":2.25,"v":48},{"x":87.25,"y":2.25,"v":40},{"x":87.75,"y":2.25,"v":32},{"x":88.25,"y":2.25,"v":12},{"x":88.75,"y":2.25,"v":10},{"x":89.25,"y":2.25,"v":16},{"x":89.75,"y":2.25,"v":26},{"x":90.25,"y":2.25,"v":30},{"x":90.75,"y":2.25,"v":35},{"x":91.25,"y":2.25,"v":38},{"x":91.75,"y":2.25,"v":40},{"x":92.25,"y":2.25,"v":41},{"x":92.75,"y":2.25,"v":41},{"x":93.25,"y":2.25,"v":42},{"x":93.75,"y":2.25,"v":42},{"x":94.25,"y":2.25,"v":43},{"x":94.75,"y":2.25,"v":43},
{"x":85.25,"y":1.75,"v":53},{"x":85.75,"y":1.75,"v":53},{"x":86.25,"y":1.75,"v":52},{"x":86.75,"y":1.75,"v":52},{"x":87.25,"y":1.75,"v":50},{"x":87.75,"y":1.75,"v":46},{"x":88.25,"y":1.75,"v":38},{"x":88.75,"y":1.75,"v":14},{"x":89.25,"y":1.75,"v":4},{"x":89.75,"y":1.75,"v":14},{"x":90.25,"y":1.75,"v":22},{"x":90.75,"y":1.75,"v":32},{"x":91.25,"y":1.75,"v":36},{"x":91.75,"y":1.75,"v":39},{"x":92.25,"y":1.75,"v":40},{"x":92.75,"y":1.75,"v":41},{"x":93.25,"y":1.75,"v":42},{"x":93.75,"y":1.75,"v":42},{"x":94.25,"y":1.75,"v":43},{"x":94.75,"y":1.75,"v":43},
{"x":85.25,"y":1.25,"v":53},{"x":85.75,"y":1.25,"v":53},{"x":86.25,"y":1.25,"v":53},{"x":86.75,"y":1.25,"v":54},{"x":87.25,"y":1.25,"v":54},{"x":87.75,"y":1.25,"v":54},{"x":88.25,"y":1.25,"v":50},{"x":88.75,"y":1.25,"v":38},{"x":89.25,"y":1.25,"v":24},{"x":89.75,"y":1.25,"v":10},{"x":90.25,"y":1.25,"v":20},{"x":90.75,"y":1.25,"v":30},{"x":91.25,"y":1.25,"v":34},{"x":91.75,"y":1.25,"v":38},{"x":92.25,"y":1.25,"v":40},{"x":92.75,"y":1.25,"v":41},{"x":93.25,"y":1.25,"v":42},{"x":93.75,"y":1.25,"v":42},{"x":94.25,"y":1.25,"v":43},{"x":94.75,"y":1.25,"v":43},
{"x":85.25,"y":0.75,"v":53},{"x":85.75,"y":0.75,"v":53},{"x":86.25,"y":0.75,"v":54},{"x":86.75,"y":0.75,"v":54},{"x":87.25,"y":0.75,"v":55},{"x":87.75,"y":0.75,"v":56},{"x":88.25,"y":0.75,"v":56},{"x":88.75,"y":0.75,"v":50},{"x":89.25,"y":0.75,"v":44},{"x":89.75,"y":0.75,"v":36},{"x":90.25,"y":0.75,"v":26},{"x":90.75,"y":0.75,"v":24},{"x":91.25,"y":0.75,"v":32},{"x":91.75,"y":0.75,"v":36},{"x":92.25,"y":0.75,"v":39},{"x":92.75,"y":0.75,"v":40},{"x":93.25,"y":0.75,"v":41},{"x":93.75,"y":0.75,"v":42},{"x":94.25,"y":0.75,"v":42},{"x":94.75,"y":0.75,"v":43},
{"x":85.25,"y":0.25,"v":53},{"x":85.75,"y":0.25,"v":54},{"x":86.25,"y":0.25,"v":54},{"x":86.75,"y":0.25,"v":55},{"x":87.25,"y":0.25,"v":56},{"x":87.75,"y":0.25,"v":58},{"x":88.25,"y":0.25,"v":60},{"x":88.75,"y":0.25,"v":62},{"x":89.25,"y":0.25,"v":68},{"x":89.75,"y":0.25,"v":64},{"x":90.25,"y":0.25,"v":52},{"x":90.75,"y":0.25,"v":38},{"x":91.25,"y":0.25,"v":36},{"x":91.75,"y":0.25,"v":38},{"x":92.25,"y":0.25,"v":40},{"x":92.75,"y":0.25,"v":41},{"x":93.25,"y":0.25,"v":42},{"x":93.75,"y":0.25,"v":42},{"x":94.25,"y":0.25,"v":42},{"x":94.75,"y":0.25,"v":43},
{"x":85.25,"y":-0.25,"v":53},{"x":85.75,"y":-0.25,"v":54},{"x":86.25,"y":-0.25,"v":54},{"x":86.75,"y":-0.25,"v":55},{"x":87.25,"y":-0.25,"v":55},{"x":87.75,"y":-0.25,"v":57},{"x":88.25,"y":-0.25,"v":58},{"x":88.75,"y":-0.25,"v":60},{"x":89.25,"y":-0.25,"v":64},{"x":89.75,"y":-0.25,"v":70},{"x":90.25,"y":-0.25,"v":74},{"x":90.75,"y":-0.25,"v":57},{"x":91.25,"y":-0.25,"v":44},{"x":91.75,"y":-0.25,"v":40},{"x":92.25,"y":-0.25,"v":41},{"x":92.75,"y":-0.25,"v":42},{"x":93.25,"y":-0.25,"v":42},{"x":93.75,"y":-0.25,"v":43},{"x":94.25,"y":-0.25,"v":43},{"x":94.75,"y":-0.25,"v":43},
{"x":85.25,"y":-0.75,"v":53},{"x":85.75,"y":-0.75,"v":54},{"x":86.25,"y":-0.75,"v":54},{"x":86.75,"y":-0.75,"v":55},{"x":87.25,"y":-0.75,"v":56},{"x":87.75,"y":-0.75,"v":57},{"x":88.25,"y":-0.75,"v":58},{"x":88.75,"y":-0.75,"v":60},{"x":89.25,"y":-0.75,"v":64},{"x":89.75,"y":-0.75,"v":72},{"x":90.25,"y":-0.75,"v":74},{"x":90.75,"y":-0.75,"v":80},{"x":91.25,"y":-0.75,"v":74},{"x":91.75,"y":-0.75,"v":55},{"x":92.25,"y":-0.75,"v":45},{"x":92.75,"y":-0.75,"v":42},{"x":93.25,"y":-0.75,"v":42},{"x":93.75,"y":-0.75,"v":43},{"x":94.25,"y":-0.75,"v":43},{"x":94.75,"y":-0.75,"v":43},
{"x":85.25,"y":-1.25,"v":53},{"x":85.75,"y":-1.25,"v":54},{"x":86.25,"y":-1.25,"v":54},{"x":86.75,"y":-1.25,"v":55},{"x":87.25,"y":-1.25,"v":56},{"x":87.75,"y":-1.25,"v":57},{"x":88.25,"y":-1.25,"v":58},{"x":88.75,"y":-1.25,"v":60},{"x":89.25,"y":-1.25,"v":63},{"x":89.75,"y":-1.25,"v":67},{"x":90.25,"y":-1.25,"v":74},{"x":90.75,"y":-1.25,"v":76},{"x":91.25,"y":-1.25,"v":86},{"x":91.75,"y":-1.25,"v":80},{"x":92.25,"y":-1.25,"v":65},{"x":92.75,"y":-1.25,"v":50},{"x":93.25,"y":-1.25,"v":44},{"x":93.75,"y":-1.25,"v":43},{"x":94.25,"y":-1.25,"v":43},{"x":94.75,"y":-1.25,"v":43},
{"x":85.25,"y":-1.75,"v":53},{"x":85.75,"y":-1.75,"v":54},{"x":86.25,"y":-1.75,"v":54},{"x":86.75,"y":-1.75,"v":55},{"x":87.25,"y":-1.75,"v":56},{"x":87.75,"y":-1.75,"v":57},{"x":88.25,"y":-1.75,"v":58},{"x":88.75,"y":-1.75,"v":59},{"x":89.25,"y":-1.75,"v":62},{"x":89.75,"y":-1.75,"v":65},{"x":90.25,"y":-1.75,"v":72},{"x":90.75,"y":-1.75,"v":75},{"x":91.25,"y":-1.75,"v":80},{"x":91.75,"y":-1.75,"v":94},{"x":92.25,"y":-1.75,"v":88},{"x":92.75,"y":-1.75,"v":76},{"x":93.25,"y":-1.75,"v":54},{"x":93.75,"y":-1.75,"v":46},{"x":94.25,"y":-1.75,"v":44},{"x":94.75,"y":-1.75,"v":44},
{"x":85.25,"y":-2.25,"v":53},{"x":85.75,"y":-2.25,"v":54},{"x":86.25,"y":-2.25,"v":54},{"x":86.75,"y":-2.25,"v":55},{"x":87.25,"y":-2.25,"v":55},{"x":87.75,"y":-2.25,"v":56},{"x":88.25,"y":-2.25,"v":57},{"x":88.75,"y":-2.25,"v":58},{"x":89.25,"y":-2.25,"v":60},{"x":89.75,"y":-2.25,"v":63},{"x":90.25,"y":-2.25,"v":69},{"x":90.75,"y":-2.25,"v":74},{"x":91.25,"y":-2.25,"v":78},{"x":91.75,"y":-2.25,"v":80},{"x":92.25,"y":-2.25,"v":92},{"x":92.75,"y":-2.25,"v":92},{"x":93.25,"y":-2.25,"v":74},{"x":93.75,"y":-2.25,"v":56},{"x":94.25,"y":-2.25,"v":50},{"x":94.75,"y":-2.25,"v":46},
{"x":85.25,"y":-2.75,"v":53},{"x":85.75,"y":-2.75,"v":54},{"x":86.25,"y":-2.75,"v":54},{"x":86.75,"y":-2.75,"v":54},{"x":87.25,"y":-2.75,"v":55},{"x":87.75,"y":-2.75,"v":56},{"x":88.25,"y":-2.75,"v":57},{"x":88.75,"y":-2.75,"v":58},{"x":89.25,"y":-2.75,"v":60},{"x":89.75,"y":-2.75,"v":62},{"x":90.25,"y":-2.75,"v":67},{"x":90.75,"y":-2.75,"v":72},{"x":91.25,"y":-2.75,"v":76},{"x":91.75,"y":-2.75,"v":78},{"x":92.25,"y":-2.75,"v":86},{"x":92.75,"y":-2.75,"v":97},{"x":93.25,"y":-2.75,"v":98},{"x":93.75,"y":-2.75,"v":76},{"x":94.25,"y":-2.75,"v":60},{"x":94.75,"y":-2.75,"v":54},
{"x":85.25,"y":-3.25,"v":53},{"x":85.75,"y":-3.25,"v":53},{"x":86.25,"y":-3.25,"v":54},{"x":86.75,"y":-3.25,"v":54},{"x":87.25,"y":-3.25,"v":55},{"x":87.75,"y":-3.25,"v":55},{"x":88.25,"y":-3.25,"v":56},{"x":88.75,"y":-3.25,"v":57},{"x":89.25,"y":-3.25,"v":59},{"x":89.75,"y":-3.25,"v":61},{"x":90.25,"y":-3.25,"v":65},{"x":90.75,"y":-3.25,"v":68},{"x":91.25,"y":-3.25,"v":75},{"x":91.75,"y":-3.25,"v":78},{"x":92.25,"y":-3.25,"v":80},{"x":92.75,"y":-3.25,"v":86},{"x":93.25,"y":-3.25,"v":97},{"x":93.75,"y":-3.25,"v":92},{"x":94.25,"y":-3.25,"v":84},{"x":94.75,"y":-3.25,"v":68},
{"x":85.25,"y":-3.75,"v":52},{"x":85.75,"y":-3.75,"v":53},{"x":86.25,"y":-3.75,"v":53},{"x":86.75,"y":-3.75,"v":54},{"x":87.25,"y":-3.75,"v":54},{"x":87.75,"y":-3.75,"v":55},{"x":88.25,"y":-3.75,"v":56},{"x":88.75,"y":-3.75,"v":57},{"x":89.25,"y":-3.75,"v":58},{"x":89.75,"y":-3.75,"v":60},{"x":90.25,"y":-3.75,"v":64},{"x":90.75,"y":-3.75,"v":66},{"x":91.25,"y":-3.75,"v":70},{"x":91.75,"y":-3.75,"v":76},{"x":92.25,"y":-3.75,"v":78},{"x":92.75,"y":-3.75,"v":80},{"x":93.25,"y":-3.75,"v":90},{"x":93.75,"y":-3.75,"v":97},{"x":94.25,"y":-3.75,"v":96},{"x":94.75,"y":-3.75,"v":80},
{"x":85.25,"y":-4.25,"v":52},{"x":85.75,"y":-4.25,"v":53},{"x":86.25,"y":-4.25,"v":53},{"x":86.75,"y":-4.25,"v":54},{"x":87.25,"y":-4.25,"v":54},{"x":87.75,"y":-4.25,"v":55},{"x":88.25,"y":-4.25,"v":55},{"x":88.75,"y":-4.25,"v":56},{"x":89.25,"y":-4.25,"v":57},{"x":89.75,"y":-4.25,"v":59},{"x":90.25,"y":-4.25,"v":63},{"x":90.75,"y":-4.25,"v":65},{"x":91.25,"y":-4.25,"v":68},{"x":91.75,"y":-4.25,"v":74},{"x":92.25,"y":-4.25,"v":76},{"x":92.75,"y":-4.25,"v":78},{"x":93.25,"y":-4.25,"v":82},{"x":93.75,"y":-4.25,"v":88},{"x":94.25,"y":-4.25,"v":94},{"x":94.75,"y":-4.25,"v":97},
{"x":85.25,"y":-4.75,"v":52},{"x":85.75,"y":-4.75,"v":52},{"x":86.25,"y":-4.75,"v":53},{"x":86.75,"y":-4.75,"v":53},{"x":87.25,"y":-4.75,"v":54},{"x":87.75,"y":-4.75,"v":54},{"x":88.25,"y":-4.75,"v":55},{"x":88.75,"y":-4.75,"v":55},{"x":89.25,"y":-4.75,"v":56},{"x":89.75,"y":-4.75,"v":58},{"x":90.25,"y":-4.75,"v":62},{"x":90.75,"y":-4.75,"v":64},{"x":91.25,"y":-4.75,"v":66},{"x":91.75,"y":-4.75,"v":70},{"x":92.25,"y":-4.75,"v":74},{"x":92.75,"y":-4.75,"v":76},{"x":93.25,"y":-4.75,"v":78},{"x":93.75,"y":-4.75,"v":82},{"x":94.25,"y":-4.75,"v":88},{"x":94.75,"y":-4.75,"v":92}
]},"mark":{"type":"rect","width":18.2,"height":18.2},"encoding":{"x":{"field":"x","type":"quantitative","scale":{"domain":[85,95],"nice":false,"zero":false},"axis":{"values":[86,90,94],"labelExpr":"datum.value+'º'","labelPadding":24,"labelOffset":14,"title":"φ₁","titleX":186,"titleY":82,"zindex":1}},"y":{"field":"y","type":"quantitative","scale":{"domain":[-10,10],"nice":false,"zero":false},"axis":{"values":[8,4,0,-4,-8],"labelExpr":"(datum.value>0?'+':'')+datum.value+'º'","labelPadding":22,"labelOffset":7,"title":"φ₂","titleAngle":0,"titleAlign":"center","titleBaseline":"middle","titleX":-127,"titleY":358,"zindex":1}},"color":{"field":"v","type":"quantitative","legend":null,"scale":{"domain":[0,36,72,100],"range":["#000000","#ff0000","#ffff00","#ffffff"],"interpolate":"rgb"}}}},{"data":{"values":[{"x":85.5},{"x":86},{"x":86.5},{"x":87},{"x":87.5},{"x":88},{"x":88.5},{"x":89},{"x":89.5},{"x":90},{"x":90.5},{"x":91},{"x":91.5},{"x":92},{"x":92.5},{"x":93},{"x":93.5},{"x":94},{"x":94.5}]},"mark":{"type":"rule","stroke":"#fffbe0","strokeWidth":1.8,"opacity":0.9,"strokeDash":[1.8,4.08]},"encoding":{"x":{"field":"x","type":"quantitative","axis":{"orient":"top","values":[86,90,94],"labels":false,"title":null,"zindex":1}},"y":{"datum":5,"type":"quantitative","axis":{"orient":"right","values":[8,4,0,-4,-8],"labels":false,"title":null,"zindex":1}},"y2":{"datum":-5}}},{"data":{"values":[{"y":5},{"y":4.5},{"y":4},{"y":3.5},{"y":3},{"y":2.5},{"y":2},{"y":1.5},{"y":1},{"y":0.5},{"y":0},{"y":-0.5},{"y":-1},{"y":-1.5},{"y":-2},{"y":-2.5},{"y":-3},{"y":-3.5},{"y":-4},{"y":-4.5}]},"mark":{"type":"rule","stroke":"#fffbe0","strokeWidth":1.8,"opacity":0.9,"strokeDash":[1.8,4.08]},"encoding":{"y":{"field":"y","type":"quantitative","axis":null},"x":{"datum":85,"type":"quantitative","axis":null},"x2":{"datum":95}}}]},{"width":353,"height":706,"title":{"text":"Fitting","anchor":"middle","dx":-63,"offset":-46},"resolve":{"axis":{"x":"independent","y":"independent"}},"layer":[{"data":{"values":[{"x":83.78,"y":12.13,"y2":10.23,"s":0},{"x":84.12,"y":12.13,"y2":10.23,"s":0.03},{"x":84.43,"y":12.13,"y2":10.23,"s":0.06},{"x":84.72,"y":12.13,"y2":10.23,"s":0.08},{"x":85.06,"y":12.13,"y2":10.23,"s":0.11},{"x":85.4,"y":12.13,"y2":10.23,"s":0.14},{"x":85.71,"y":12.13,"y2":10.23,"s":0.17},{"x":86.05,"y":12.13,"y2":10.23,"s":0.19},{"x":86.36,"y":12.13,"y2":10.23,"s":0.22},{"x":86.7,"y":12.13,"y2":10.23,"s":0.25},{"x":87.01,"y":12.13,"y2":10.23,"s":0.28},{"x":87.35,"y":12.13,"y2":10.23,"s":0.31},{"x":87.66,"y":12.13,"y2":10.23,"s":0.33},{"x":88,"y":12.13,"y2":10.23,"s":0.36},{"x":88.31,"y":12.13,"y2":10.23,"s":0.39},{"x":88.65,"y":12.13,"y2":10.23,"s":0.42},{"x":88.97,"y":12.13,"y2":10.23,"s":0.44},{"x":89.31,"y":12.13,"y2":10.23,"s":0.47},{"x":89.65,"y":12.13,"y2":10.23,"s":0.5},{"x":89.96,"y":12.13,"y2":10.23,"s":0.53},{"x":90.3,"y":12.13,"y2":10.23,"s":0.56},{"x":90.64,"y":12.13,"y2":10.23,"s":0.58},{"x":90.95,"y":12.13,"y2":10.23,"s":0.61},{"x":91.29,"y":12.13,"y2":10.23,"s":0.64},{"x":91.6,"y":12.13,"y2":10.23,"s":0.67},{"x":91.94,"y":12.13,"y2":10.23,"s":0.69},{"x":92.25,"y":12.13,"y2":10.23,"s":0.72},{"x":92.59,"y":12.13,"y2":10.23,"s":0.75},{"x":92.93,"y":12.13,"y2":10.23,"s":0.78},{"x":93.24,"y":12.13,"y2":10.23,"s":0.81},{"x":93.58,"y":12.13,"y2":10.23,"s":0.83},{"x":93.92,"y":12.13,"y2":10.23,"s":0.86},{"x":94.24,"y":12.13,"y2":10.23,"s":0.89},{"x":94.58,"y":12.13,"y2":10.23,"s":0.92},{"x":94.89,"y":12.13,"y2":10.23,"s":0.94},{"x":83.78,"y":-10.08,"y2":-13.4,"s":0},{"x":84.12,"y":-10.08,"y2":-13.4,"s":0.03},{"x":84.43,"y":-10.08,"y2":-13.4,"s":0.06},{"x":84.72,"y":-10.08,"y2":-13.4,"s":0.08},{"x":85.06,"y":-10.08,"y2":-13.4,"s":0.11},{"x":85.4,"y":-10.08,"y2":-13.4,"s":0.14},{"x":85.71,"y":-10.08,"y2":-13.4,"s":0.17},{"x":86.05,"y":-10.08,"y2":-13.4,"s":0.19},{"x":86.36,"y":-10.08,"y2":-13.4,"s":0.22},{"x":86.7,"y":-10.08,"y2":-13.4,"s":0.25},{"x":87.01,"y":-10.08,"y2":-13.4,"s":0.28},{"x":87.35,"y":-10.08,"y2":-13.4,"s":0.31},{"x":87.66,"y":-10.08,"y2":-13.4,"s":0.33},{"x":88,"y":-10.08,"y2":-13.4,"s":0.36},{"x":88.31,"y":-10.08,"y2":-13.4,"s":0.39},{"x":88.65,"y":-10.08,"y2":-13.4,"s":0.42},{"x":88.97,"y":-10.08,"y2":-13.4,"s":0.44},{"x":89.31,"y":-10.08,"y2":-13.4,"s":0.47},{"x":89.65,"y":-10.08,"y2":-13.4,"s":0.5},{"x":89.96,"y":-10.08,"y2":-13.4,"s":0.53},{"x":90.3,"y":-10.08,"y2":-13.4,"s":0.56},{"x":90.64,"y":-10.08,"y2":-13.4,"s":0.58},{"x":90.95,"y":-10.08,"y2":-13.4,"s":0.61},{"x":91.29,"y":-10.08,"y2":-13.4,"s":0.64},{"x":91.6,"y":-10.08,"y2":-13.4,"s":0.67},{"x":91.94,"y":-10.08,"y2":-13.4,"s":0.69},{"x":92.25,"y":-10.08,"y2":-13.4,"s":0.72},{"x":92.59,"y":-10.08,"y2":-13.4,"s":0.75},{"x":92.93,"y":-10.08,"y2":-13.4,"s":0.78},{"x":93.24,"y":-10.08,"y2":-13.4,"s":0.81},{"x":93.58,"y":-10.08,"y2":-13.4,"s":0.83},{"x":93.92,"y":-10.08,"y2":-13.4,"s":0.86},{"x":94.24,"y":-10.08,"y2":-13.4,"s":0.89},{"x":94.58,"y":-10.08,"y2":-13.4,"s":0.92},{"x":94.89,"y":-10.08,"y2":-13.4,"s":0.94},{"x":95.2,"y":12.13,"y2":-13.4,"s":0.97},{"x":95.51,"y":12.13,"y2":-13.4,"s":1}]},"mark":{"type":"rule","stroke":"#5c9bd1"},"encoding":{"x":{"field":"x","type":"quantitative","scale":{"domain":[85,95],"nice":false,"zero":false},"axis":{"orient":"top","values":[86,90,94],"labels":false,"title":null,"zindex":1}},"y":{"field":"y","type":"quantitative","scale":{"domain":[-10,10],"nice":false,"zero":false},"axis":{"orient":"right","values":[8,4,0,-4,-8],"labels":false,"title":null,"zindex":1}},"y2":{"field":"y2"},"opacity":{"field":"s","type":"quantitative","legend":null,"scale":{"domain":[0,1],"range":[0.05,0.85]}},"size":{"field":"s","type":"quantitative","legend":null,"scale":{"domain":[0,1],"range":[2.2,4]}}}},{"data":{"name":"fit"},"mark":{"type":"rect","width":12.2,"height":12.2},"encoding":{"x":{"field":"x","type":"quantitative","axis":{"values":[86,90,94],"labelExpr":"datum.value+'º'","labelPadding":24,"labelOffset":14,"title":"φ₁","titleX":187,"titleY":82,"zindex":1}},"y":{"field":"y","type":"quantitative","axis":{"values":[8,4,0,-4,-8],"labels":false,"title":null,"zindex":1}},"color":{"field":"v","type":"quantitative","legend":null,"scale":{"domain":[0,36,72,100],"range":["#000000","#ff0000","#ffff00","#ffffff"],"interpolate":"rgb"}}}},{"data":{"name":"fit"},"mark":{"type":"rect","width":12.2,"height":12.2,"xOffset":-2.94,"yOffset":-2.94,"clip":true},"encoding":{"x":{"field":"x","type":"quantitative","axis":null},"y":{"field":"y","type":"quantitative","axis":null},"color":{"field":"v","type":"quantitative","legend":null}}},{"data":{"name":"fit"},"mark":{"type":"rect","width":11.767,"height":11.767,"xOffset":2.94,"yOffset":-2.94,"opacity":0.5,"clip":true},"encoding":{"x":{"field":"x","type":"quantitative","axis":null},"y":{"field":"y","type":"quantitative","axis":null},"color":{"field":"v","type":"quantitative","legend":null}}},{"data":{"name":"fit"},"mark":{"type":"rect","width":11.767,"height":11.767,"xOffset":-2.94,"yOffset":2.94,"opacity":0.333,"clip":true},"encoding":{"x":{"field":"x","type":"quantitative","axis":null},"y":{"field":"y","type":"quantitative","axis":null},"color":{"field":"v","type":"quantitative","legend":null}}},{"data":{"name":"fit"},"mark":{"type":"rect","width":11.767,"height":11.767,"xOffset":2.94,"yOffset":2.94,"opacity":0.25,"clip":true},"encoding":{"x":{"field":"x","type":"quantitative","axis":null},"y":{"field":"y","type":"quantitative","axis":null},"color":{"field":"v","type":"quantitative","legend":null}}},{"data":{"values":[{"x":85,"x2":95,"y":10,"y2":5},{"x":85,"x2":95,"y":-5,"y2":-10}]},"mark":{"type":"rect","fill":"white","opacity":1},"encoding":{"x":{"field":"x","type":"quantitative","axis":null},"x2":{"field":"x2"},"y":{"field":"y","type":"quantitative","axis":null},"y2":{"field":"y2"}}}]}]}
